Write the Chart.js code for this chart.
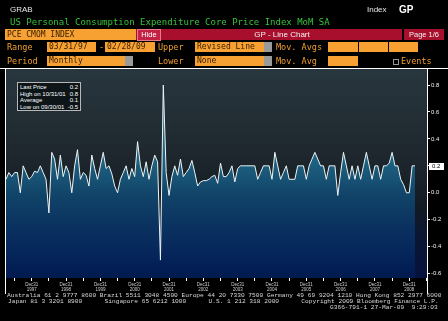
<!DOCTYPE html>
<html>
<head>
<meta charset="utf-8">
<script src="https://cdn.jsdelivr.net/npm/chart.js@4"></script>
<style>
  body { margin:0; background:#000; width:448px; height:321px; overflow:hidden; position:relative; font-family:"DejaVu Sans Mono", monospace; }
  canvas { position:absolute; left:0; top:0; }
  .t { position:absolute; white-space:pre; line-height:1; }
  .box { position:absolute; background:#f7a133; color:#3a2000; font-size:8px; height:10px; line-height:10px; padding-left:2px; box-sizing:border-box; white-space:pre; overflow:hidden; }
  .lbl { position:absolute; color:#f0a030; font-size:8.5px; line-height:10px; white-space:pre; }
  .gray { position:absolute; right:0; top:0; width:8px; height:100%; background:#9a9a9a; }
  .foot { position:absolute; color:#d8d8d8; font-family:"Liberation Mono", monospace; font-size:6.2px; line-height:1; white-space:pre; }
  #legend { position:absolute; left:17px; top:82px; width:64px; height:29px; border:1px solid #b8b8b8; background:#0d1519; box-sizing:border-box; font-family:"Liberation Sans", sans-serif; font-size:6px; color:#fff; padding:1px 2px 0 2px; }
  #legend div { display:flex; justify-content:space-between; height:6.6px; line-height:6.6px; }
</style>
</head>
<body>
<canvas id="chart" width="448" height="321"></canvas>

<div class="t" style="left:10px;top:6px;font-size:8px;color:#e8e8e8;font-family:'Liberation Sans',sans-serif;">GRAB</div>
<div class="t" style="left:367px;top:6px;font-size:8px;color:#e8e8e8;font-family:'Liberation Sans',sans-serif;">Index</div>
<div class="t" style="left:399px;top:5px;font-size:10px;color:#fff;font-weight:bold;font-family:'Liberation Sans',sans-serif;">GP</div>
<div class="t" style="left:10px;top:18px;font-size:9px;color:#35c43a;">US Personal Consumption Expenditure Core Price Index MoM SA</div>

<div class="box" style="left:5px;top:29px;width:131px;height:11px;line-height:11px;">PCE CMOM INDEX</div>
<div class="t" style="left:136px;top:29px;width:266px;height:11px;background:#a80f2c;"></div>
<div class="t" style="left:137px;top:29px;width:22px;height:10px;background:#c42244;border:1px solid #e87a8a;color:#fff;font-size:7.5px;line-height:10px;text-align:center;font-family:'Liberation Sans',sans-serif;">Hide</div>
<div class="t" style="left:230px;top:29px;width:104px;height:11px;color:#f2f2f2;font-size:8px;line-height:11px;text-align:center;font-family:'Liberation Sans',sans-serif;">GP - Line Chart</div>
<div class="t" style="left:404px;top:29px;width:40px;height:11px;background:#a80f2c;color:#f2f2f2;font-size:7.5px;line-height:11px;text-align:center;font-family:'Liberation Sans',sans-serif;">Page 1/6</div>

<div class="lbl" style="left:7px;top:42px;">Range</div>
<div class="box" style="left:47px;top:42px;width:49px;">03/31/97</div>
<div class="lbl" style="left:99px;top:42px;">-</div>
<div class="box" style="left:105px;top:42px;width:50px;">02/28/09</div>
<div class="lbl" style="left:158px;top:42px;">Upper</div>
<div class="box" style="left:195px;top:42px;width:77px;">Revised Line<div class="gray"></div></div>
<div class="lbl" style="left:276px;top:42px;">Mov. Avgs</div>
<div class="box" style="left:328px;top:42px;width:30px;"></div>
<div class="box" style="left:359px;top:42px;width:29px;"></div>
<div class="box" style="left:389px;top:42px;width:29px;"></div>

<div class="lbl" style="left:7px;top:56px;">Period</div>
<div class="box" style="left:47px;top:56px;width:86px;">Monthly<div class="gray"></div></div>
<div class="lbl" style="left:158px;top:56px;">Lower</div>
<div class="box" style="left:195px;top:56px;width:77px;">None<div class="gray"></div></div>
<div class="lbl" style="left:276px;top:56px;">Mov. Avg</div>
<div class="box" style="left:328px;top:56px;width:30px;"></div>
<div class="t" style="left:393px;top:59px;width:6px;height:6px;border:1px solid #999;box-sizing:border-box;"></div>
<div class="lbl" style="left:401px;top:56px;">Events</div>

<div id="legend">
  <div><span>Last Price</span><span>0.2</span></div>
  <div><span>High on 10/31/01</span><span>0.8</span></div>
  <div><span>Average</span><span>0.1</span></div>
  <div><span>Low on 09/30/01</span><span>-0.5</span></div>
</div>

<div class="foot" style="left:7px;top:293px;">Australia 61 2 9777 8600 Brazil 5511 3048 4500 Europe 44 20 7330 7500 Germany 49 69 9204 1210 Hong Kong 852 2977 6000</div>
<div class="foot" style="left:8px;top:299px;">Japan 81 3 3201 8900      Singapore 65 6212 1000      U.S. 1 212 318 2000      Copyright 2009 Bloomberg Finance L.P.</div>
<div class="foot" style="left:330px;top:305px;">G366-791-1 27-Mar-09  9:29:03</div>

<script>
// monthly core PCE MoM %, Mar 1997 .. Feb 2009
const coreMoM = [
  0.10, 0.15, 0.12, 0.15, 0.15, 0.00, 0.20, 0.15, 0.10, 0.12, 0.16, 0.15,
  0.20, 0.15, 0.10, -0.15, 0.30, 0.25, 0.10, 0.28, 0.12, 0.20, 0.15, 0.00,
  0.20, 0.32, 0.10, 0.15, 0.13, 0.05, 0.28, 0.18, 0.10, 0.20, 0.30, 0.18,
  0.20, 0.14, 0.05, 0.00, 0.10, 0.15, 0.20, 0.10, 0.18, 0.12, 0.38, 0.20,
  0.12, 0.23, 0.10, 0.20, 0.28, 0.23, -0.50, 0.80, 0.15, -0.02, 0.12, 0.20,
  0.13, 0.25, 0.12, 0.15, 0.18, 0.24, 0.15, 0.05, 0.08, 0.09, 0.09, 0.10,
  0.12, 0.13, 0.07, 0.22, 0.12, 0.12, 0.15, 0.20, 0.08, 0.18, 0.20, 0.20,
  0.20, 0.20, 0.20, 0.20, 0.10, 0.15, 0.20, 0.20, 0.20, 0.10, 0.30, 0.20,
  0.10, 0.15, 0.20, 0.10, 0.10, 0.10, 0.20, 0.20, 0.20, 0.10, 0.20, 0.25,
  0.30, 0.25, 0.20, 0.20, 0.10, 0.20, 0.20, 0.20, -0.02, 0.15, 0.30, 0.20,
  0.10, 0.20, 0.10, 0.20, 0.10, 0.20, 0.30, 0.20, 0.10, 0.20, 0.20, 0.10,
  0.20, 0.20, 0.22, 0.30, 0.20, 0.20, 0.10, 0.06, 0.00, 0.00, 0.20, 0.20
];
const yearLabels = ['1997','1998','1999','2000','2001','2002','2003','2004','2005','2006','2007','2008'];
const yTicks = [-0.6, -0.4, -0.2, 0, 0.2, 0.4, 0.6, 0.8];
const decIndex = 9;   // Dec 1997 is the 10th month of the series
const lastPrice = 0.2;

const frame = {
  id: 'frame',
  beforeDraw(chart) {
    const { ctx, chartArea: a } = chart;
    const g = ctx.createLinearGradient(0, a.top, 0, a.bottom);
    g.addColorStop(0, '#28363e');
    g.addColorStop(0.3, '#212c32');
    g.addColorStop(0.5, '#1a2329');
    g.addColorStop(0.65, '#121b22');
    g.addColorStop(0.8, '#0b1632');
    g.addColorStop(1, '#06123e');
    ctx.save();
    ctx.fillStyle = g;
    ctx.fillRect(a.left, a.top, a.right - a.left, a.bottom - a.top);
    ctx.restore();
  },
  afterDraw(chart) {
    const { ctx, chartArea: a } = chart;
    ctx.save();
    ctx.strokeStyle = '#ffffff';
    ctx.lineWidth = 1;
    ctx.beginPath();
    ctx.moveTo(0, a.top - 0.5); ctx.lineTo(448, a.top - 0.5);
    ctx.moveTo(a.left - 0.5, a.top); ctx.lineTo(a.left - 0.5, 294);
    ctx.moveTo(a.right + 0.5, a.top); ctx.lineTo(a.right + 0.5, 294);
    ctx.stroke();
    const y = Math.round(chart.scales.y.getPixelForValue(lastPrice));
    ctx.fillStyle = '#ffffff';
    ctx.fillRect(a.right + 2, y - 3, 15, 7);
    ctx.fillStyle = '#000000';
    ctx.font = '6px "Liberation Sans"';
    ctx.textBaseline = 'middle';
    ctx.fillText(lastPrice.toFixed(1), a.right + 5, y + 0.5);
    ctx.restore();
  }
};

new Chart(document.getElementById('chart'), {
  type: 'line',
  data: {
    datasets: [{
      data: coreMoM.map((v, i) => ({ x: i, y: v })),
      borderColor: '#eef4f4',
      borderWidth: 1,
      pointRadius: 0,
      tension: 0,
      fill: 'start',
      backgroundColor: (c) => {
        const a = c.chart.chartArea;
        if (!a) return '#1c5f7c';
        const g = c.chart.ctx.createLinearGradient(0, a.top, 0, a.bottom);
        g.addColorStop(0, '#2f7a98');
        g.addColorStop(0.45, '#1d6080');
        g.addColorStop(0.6, '#114468');
        g.addColorStop(0.75, '#0a3260');
        g.addColorStop(0.9, '#05245a');
        g.addColorStop(1, '#011a50');
        return g;
      }
    }]
  },
  options: {
    responsive: false,
    animation: false,
    layout: { padding: { left: 6, top: 69, right: 0, bottom: 25 } },
    plugins: { legend: { display: false }, tooltip: { enabled: false } },
    scales: {
      x: {
        type: 'linear',
        min: 0,
        max: 147.2,
        afterFit: (s) => { s.height = 18; },
        afterBuildTicks: (s) => {
          const t = [];
          for (let v = decIndex - 6; v <= 147; v += 6) t.push({ value: v });
          s.ticks = t;
        },
        grid: { drawOnChartArea: false, tickLength: 3, color: '#ffffff' },
        border: { display: false },
        ticks: {
          autoSkip: false,
          maxRotation: 0,
          padding: 1,
          color: '#cfcfcf',
          font: { family: 'Liberation Sans', size: 4.5 },
          callback: (v) => {
            const k = (v - decIndex) / 12;
            return Number.isInteger(k) && yearLabels[k] ? ['Dec31', yearLabels[k]] : '';
          }
        }
      },
      y: {
        position: 'right',
        min: -0.633,
        max: 0.919,
        afterFit: (s) => { s.width = 21; },
        afterBuildTicks: (s) => { s.ticks = yTicks.map(v => ({ value: v })); },
        grid: { drawOnChartArea: false, tickLength: 3, color: '#ffffff' },
        border: { display: false },
        ticks: {
          padding: 1,
          color: '#f0f0f0',
          font: { family: 'Liberation Sans', size: 6 },
          callback: (v) => v.toFixed(1)
        }
      }
    }
  },
  plugins: [frame]
});
</script>
</body>
</html>
